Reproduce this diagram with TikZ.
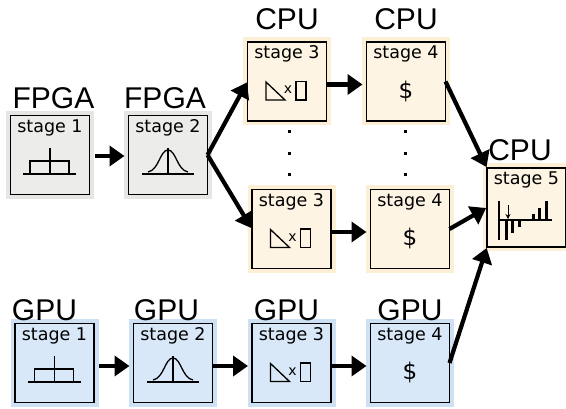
\documentclass[tikz,border=0pt]{standalone}
\usepackage{fontspec}
\setmainfont{Liberation Sans}
\newfontfamily\stagefont{DejaVu Sans}
\usepackage{tikz}
\usetikzlibrary{arrows.meta,positioning}

\definecolor{fpgatint}{RGB}{236,236,234}
\definecolor{fpgahalo}{RGB}{230,230,228}
\definecolor{cputint}{RGB}{254,244,228}
\definecolor{cpuhalo}{RGB}{253,238,214}
\definecolor{gputint}{RGB}{216,232,248}
\definecolor{gpuhalo}{RGB}{205,224,244}

\tikzset{
  stagebox/.style={draw=black,line width=1.4pt,inner sep=0pt,outer sep=0pt,
    minimum width=79pt,minimum height=79pt,text height=17pt,text depth=62pt,
    font=\stagefont\fontsize{17.5}{17.5}\selectfont},
  fpgabox/.style={stagebox,preaction={draw=fpgahalo,line width=9pt},fill=fpgatint},
  cpubox/.style={stagebox,preaction={draw=cpuhalo,line width=9pt},fill=cputint},
  gpubox/.style={stagebox,preaction={draw=gpuhalo,line width=9pt},fill=gputint},
  unittag/.style={inner sep=0pt,text depth=0pt,font=\fontsize{30}{30}\selectfont},
  link/.style={-{Triangle[length=15pt,width=20pt]},line width=4.2pt,shorten >=4pt},
  slant/.style={-{Triangle[length=15pt,width=20pt]},line width=4.2pt,shorten >=1pt},
  vdot/.style={fill=black,inner sep=0pt,minimum size=3pt,rectangle},
  glyph/.style={line width=1.3pt,line cap=butt},
  pics/boxcaricon/.style={code={
    \draw[glyph] (-27,19) -- (26,19);
    \draw[glyph] (0,-7) -- (0,19);
    \draw[glyph] (-20,19) -- (-20,6) -- (19,6) -- (19,19);
  }},
  pics/gaussicon/.style={code={
    \draw[glyph] (-26,19) -- (26,19);
    \draw[glyph] (0,-7) -- (0,19);
    \draw[glyph] (-20,17) .. controls (-9,15) and (-8,-5) .. (0,-5) .. controls (8,-5) and (9,15) .. (20,17);
  }},
  pics/mixicon/.style={code={
    \draw[glyph] (-21,0.5) -- (-2,18.5) -- (-21,18.5) -- cycle;
    \draw[glyph] (9,0) rectangle (19,18.5);
    \node (-tick) at (1,8.5) [inner sep=0pt,font=\stagefont\fontsize{14}{14}\selectfont] {x};
  }},
  pics/dollaricon/.style={code={
    \node (-sign) at (0,9.5) [inner sep=0pt,font=\stagefont\fontsize{23}{23}\selectfont] {\$};
  }},
  pics/specicon/.style={code={
    \draw[glyph] (-27.5,12.5) -- (25.5,12.5);
    \draw[glyph] (-27.5,-6.5) -- (-27.5,32.5);
    \draw[line width=3pt] (-20.5,12.5) -- (-20.5,32.5);
    \draw[line width=3pt] (-14.5,12.5) -- (-14.5,25.5);
    \draw[line width=3pt] (-7.5,12.5) -- (-7.5,19.5);
    \draw[line width=3pt] (6.5,12.5) -- (6.5,6.5);
    \draw[line width=3pt] (12.5,12.5) -- (12.5,0.5);
    \draw[line width=3pt] (19.5,12.5) -- (19.5,-6.5);
    \draw[-{Stealth[length=5pt,width=5pt]},line width=0.9pt] (-18.5,-2.5) -- (-18.5,11.5);
  }}
}

\begin{document}
\begin{tikzpicture}[x=1pt,y=-1pt]
    \useasboundingbox (0,0) rectangle (566,409);

    % upper rows
    \node (fpgaone) at (50,155) [fpgabox] {stage 1};
    \node (fpgatwo) at (168,155) [fpgabox] {stage 2};
    \node (cputhreea) at (287,81.5) [cpubox] {stage 3};
    \node (cpufoura) at (406,81.5) [cpubox] {stage 4};
    \node (cputhreeb) at (291.5,229) [cpubox] {stage 3};
    \node (cpufourb) at (410,229) [cpubox] {stage 4};
    \node (cpufive) at (526.5,207.5) [cpubox] {stage 5};

    % lower row
    \node (gpuone) at (54.5,363) [gpubox] {stage 1};
    \node (gputwo) at (173,363) [gpubox] {stage 2};
    \node (gputhree) at (291.5,363) [gpubox] {stage 3};
    \node (gpufour) at (410,363) [gpubox] {stage 4};

    \node (tagfpgaone) [unittag,above=7pt of fpgaone,xshift=3.5pt] {FPGA};
    \node (tagfpgatwo) [unittag,above=7pt of fpgatwo,xshift=-3pt] {FPGA};
    \node (tagcputhree) [unittag,above=12pt of cputhreea] {CPU};
    \node (tagcpufour) [unittag,above=12pt of cpufoura] {CPU};
    \node (tagcpufive) [unittag,above=7pt of cpufive,xshift=-6.5pt] {CPU};
    \node (taggpuone) [unittag,above=3pt of gpuone,xshift=-10pt] {GPU};
    \node (taggputwo) [unittag,above=3pt of gputwo,xshift=-6.5pt] {GPU};
    \node (taggputhree) [unittag,above=3pt of gputhree,xshift=-5pt] {GPU};
    \node (taggpufour) [unittag,above=3pt of gpufour] {GPU};

    \pic at (fpgaone) {boxcaricon};
    \pic at (fpgatwo) {gaussicon};
    \pic at (cputhreea) {mixicon};
    \pic at (cpufoura) {dollaricon};
    \pic at (cputhreeb) {mixicon};
    \pic at (cpufourb) {dollaricon};
    \pic at (cpufive) {specicon};
    \pic at (gpuone) {boxcaricon};
    \pic at (gputwo) {gaussicon};
    \pic at (gputhree) {mixicon};
    \pic at (gpufour) {dollaricon};

    \node (dotaa) at (289,132) [vdot] {};
    \node (dotab) at (289,154) [vdot] {};
    \node (dotac) at (289,175) [vdot] {};
    \node (dotba) at (405,132) [vdot] {};
    \node (dotbb) at (405,154) [vdot] {};
    \node (dotbc) at (405,175) [vdot] {};

    \draw[link,shorten <=5pt] ([yshift=-1pt]fpgaone.east) -- ([yshift=-1pt]fpgatwo.west);
    \draw[link] ([yshift=-3pt]cputhreea.east) -- ([yshift=-3pt]cpufoura.west);
    \draw[link] ([yshift=-3pt]cputhreeb.east) -- ([yshift=-3pt]cpufourb.west);
    \draw[link,shorten <=5pt] ([yshift=-3pt]gpuone.east) -- ([yshift=-3pt]gputwo.west);
    \draw[link] ([yshift=-3pt]gputwo.east) -- ([yshift=-3pt]gputhree.west);
    \draw[link] ([yshift=-3pt]gputhree.east) -- ([yshift=-3pt]gpufour.west);

    \draw[slant] (fpgatwo.east) -- (cputhreea.west);
    \draw[slant] (fpgatwo.east) -- (cputhreeb.west);
    \draw[slant] (cpufoura.east) -- (cpufive.north west);
    \draw[slant] (cpufourb.east) -- (cpufive.west);
    \draw[slant] (gpufour.east) -- (cpufive.south west);
\end{tikzpicture}
\end{document}
